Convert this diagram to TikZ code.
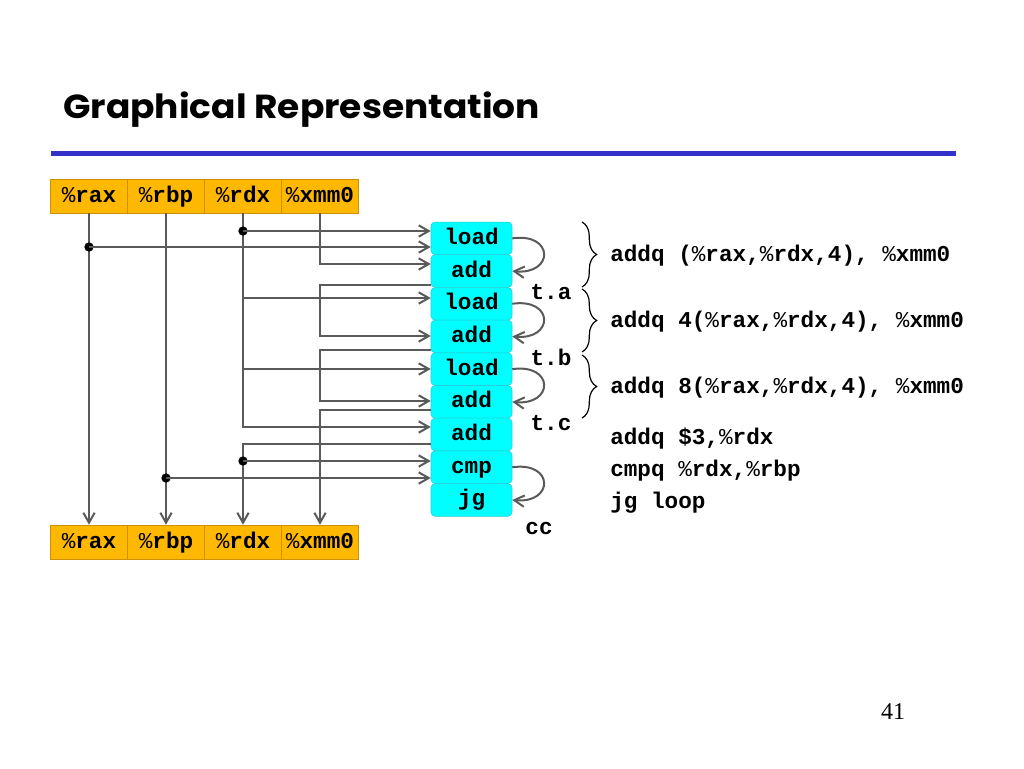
\documentclass[tikz,border=0pt]{standalone}
\usepackage{fontspec}
\setmainfont{Liberation Serif}
\setmonofont{Liberation Mono}
\newfontfamily\titlefont{Poppins}
\usetikzlibrary{arrows.meta,calc,decorations.pathreplacing}

\definecolor{regfill}{RGB}{255,184,0}
\definecolor{regedge}{RGB}{205,145,0}
\definecolor{opfill}{RGB}{0,255,255}
\definecolor{opedge}{RGB}{40,205,215}
\definecolor{wirecol}{RGB}{90,90,90}
\definecolor{rulecol}{RGB}{51,51,204}

\newcommand\pct{{\mdseries\%}}

\begin{document}
\begin{tikzpicture}[x=0.75pt,y=-0.75pt,
  mono/.style={font=\ttfamily\bfseries\fontsize{17}{20}\selectfont},
  reg/.style={mono,draw=regedge,fill=regfill,minimum width=57.75pt,minimum height=25.5pt,inner sep=0pt,text height=12pt,text depth=3pt},
  opbox/.style={mono,draw=opedge,fill=opfill,rounded corners=3pt,minimum width=60.75pt,minimum height=24.5pt,inner sep=0pt,text height=12pt,text depth=3pt},
  wire/.style={draw=wirecol,line width=1.5pt},
  arr/.style={wire,-{Straight Barb[length=7.5pt,width=8.5pt]}},
  dot/.style={circle,fill=black,inner sep=0pt,minimum size=7pt},
  code/.style={mono,anchor=base west,inner sep=0pt},
  lbl/.style={mono,anchor=base,inner sep=0pt},
  bracedec/.style={draw=black,line width=0.9pt,decorate,decoration={brace,amplitude=11pt}}]

\fill[white] (0,0) rectangle (1024,768);
\useasboundingbox (0,0) rectangle (1024,768);

% title and rule
\node[anchor=base west,inner sep=0pt,font=\titlefont\bfseries\fontsize{25}{30}\selectfont] (title) at (63,118) {\scalebox{1.08}[1]{Graphical Representation}};
\draw[rulecol,line width=3.75pt] (51,153.5) -- (956,153.5);

% helper y levels
\foreach \yy in {231,247,264,285,298,336,350,369,401,410,427,444,461,478}
  \coordinate (y\yy) at (0,\yy);

% register bars
\node[reg] (tax) at (89,196) {\pct rax};
\node[reg] (tbp) at (166,196) {\pct rbp};
\node[reg] (tdx) at (243,196) {\pct rdx};
\node[reg] (txm) at (320,196) {\pct xmm0};
\node[reg] (bax) at (89,542) {\pct rax};
\node[reg] (bbp) at (166,542) {\pct rbp};
\node[reg] (bdx) at (243,542) {\pct rdx};
\node[reg] (bxm) at (320,542) {\pct xmm0};

% operation boxes
\node[opbox] (l1) at (471.5,238.35) {load};
\node[opbox] (a1) at (471.5,271.05) {add};
\node[opbox] (l2) at (471.5,303.75) {load};
\node[opbox] (a2) at (471.5,336.45) {add};
\node[opbox] (l3) at (471.5,369.15) {load};
\node[opbox] (a3) at (471.5,401.85) {add};
\node[opbox] (a4) at (471.5,434.55) {add};
\node[opbox] (cm) at (471.5,467.25) {cmp};
\node[opbox] (jg) at (471.5,499.95) {jg};

% %rax
\draw[arr] (tax) -- (bax);
\node[dot] (dax) at (tax |- y247) {};
\draw[arr] (dax.center) -- (l1.west |- y247);
% %rbp
\draw[arr] (tbp) -- (bbp);
\node[dot] (dbp) at (tbp |- y478) {};
\draw[arr] (dbp.center) -- (cm.west |- y478);
% %rdx
\draw[arr] (tdx.south) |- (a4.west |- y427);
\node[dot] (ddx) at (tdx |- y231) {};
\draw[arr] (ddx.center) -- (l1.west |- y231);
\draw[arr] (tdx |- y298) -- (l2.west |- y298);
\draw[arr] (tdx |- y369) -- (l3.west |- y369);
% %xmm0
\draw[arr] (txm.south) |- (a1.west |- y264);
% accumulator chain
\draw[arr] (a1.west |- y285) -| (txm |- y336) -- (a2.west |- y336);
\draw[arr] (a2.west |- y350) -| (txm |- y401) -- (a3.west |- y401);
\draw[arr] (a3.west |- y410) -| (bxm.north);
% new %rdx
\draw[arr] (a4.west |- y444) -| (bdx.north);
\node[dot] (ddx2) at (tdx |- y461) {};
\draw[arr] (ddx2.center) -- (cm.west |- y461);

% dependency curves
\draw[arr] (l1.east) .. controls +(42,-6) and +(42,4) .. (a1.east);
\draw[arr] (l2.east) .. controls +(42,-6) and +(42,4) .. (a2.east);
\draw[arr] (l3.east) .. controls +(42,-6) and +(42,4) .. (a3.east);
\draw[arr] (cm.east) .. controls +(42,-6) and +(42,4) .. (jg.east);

% labels
\node[lbl] (ta) at (551,299) {t.a};
\node[lbl] (tb) at (551,365) {t.b};
\node[lbl] (tc) at (551,430) {t.c};
\node[lbl] (cc) at (539,534) {cc};

% braces
\draw[bracedec] (582,222) -- (582,287);
\draw[bracedec] (582,289) -- (582,352);
\draw[bracedec] (582,355) -- (582,418);

% code
\node[code] (c1) at (610,261.5) {addq (\pct rax,\pct rdx,4), \pct xmm0};
\node[code] (c2) at (610,327.5) {addq 4(\pct rax,\pct rdx,4), \pct xmm0};
\node[code] (c3) at (610,393.5) {addq 8(\pct rax,\pct rdx,4), \pct xmm0};
\node[code] (c4) at (610,444) {addq \$3,\pct rdx};
\node[code] (c5) at (610,476) {cmpq \pct rdx,\pct rbp};
\node[code] (c6) at (610,508.5) {jg loop};

% page number
\node[anchor=base,inner sep=0pt,font=\fontsize{18}{20}\selectfont] (pg) at (893,719) {41};
\end{tikzpicture}
\end{document}
